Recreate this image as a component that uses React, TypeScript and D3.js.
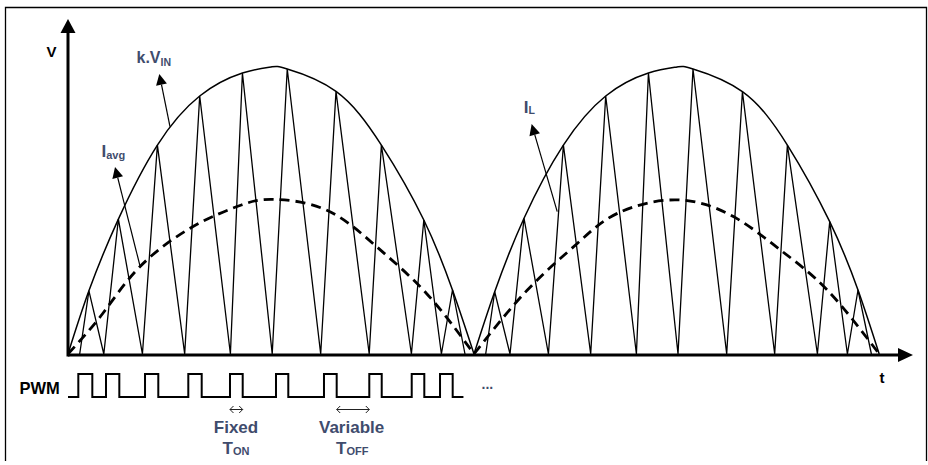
import React from 'react';
import * as d3 from 'd3';

const W = 928;
const H = 465;

// time axis in ms (one rectified half-cycle = 10 ms), values normalised to k.VIN peak
const envelopeT1 = [0, 0.515, 1.241, 2.202, 3.244, 4.296, 5.0, 5.4, 6.601, 7.719, 8.764, 9.47, 10];
const envelopeV1 = [0, 0.22, 0.47, 0.728, 0.899, 0.979, 1.0, 0.993, 0.915, 0.728, 0.467, 0.223, 0];
const envelopeT2 = [10, 10.51, 11.232, 12.202, 13.244, 14.296, 15.0, 15.394, 16.611, 17.719, 18.761, 19.458, 19.98];
const envelopeV2 = [0, 0.217, 0.473, 0.728, 0.899, 0.979, 1.0, 0.993, 0.914, 0.728, 0.461, 0.223, 0];

// inductor current IL: valleys (zero) and peaks (on envelope)
const valleyT1 = [0.288, 0.882, 1.833, 2.874, 4.0, 5.03, 6.224, 7.419, 8.458, 9.197, 9.778];
const peakT1 = [0.515, 1.241, 2.202, 3.244, 4.296, 5.4, 6.601, 7.719, 8.764, 9.47];
const peakV1 = [0.22, 0.47, 0.728, 0.899, 0.979, 0.993, 0.915, 0.728, 0.467, 0.223];
const valleyT2 = [10.288, 10.887, 11.833, 12.874, 14.0, 15.025, 16.224, 17.406, 18.458, 19.197, 19.788];
const peakT2 = [10.51, 11.232, 12.202, 13.244, 14.296, 15.394, 16.611, 17.719, 18.761, 19.458];
const peakV2 = [0.217, 0.473, 0.728, 0.899, 0.979, 0.993, 0.914, 0.728, 0.461, 0.223];

// average current (dashed)
const avgT1 = [0, 0.86, 1.77, 3.08, 4.27, 5.05, 6.36, 7.6, 8.83, 10];
const avgV1 = [0, 0.142, 0.304, 0.444, 0.519, 0.539, 0.502, 0.374, 0.211, 0];
const avgT2 = [10, 11.315, 12.55, 13.53, 15.0, 16.4, 17.55, 18.7, 19.98];
const avgV2 = [0, 0.223, 0.386, 0.49, 0.537, 0.478, 0.362, 0.223, 0];

// PWM gate signal
const pwmStart = 0;
const pwmEnd = 9.74;
const pwmRise = [0.254, 0.936, 1.897, 2.963, 3.99, 5.123, 6.305, 7.421, 8.466, 9.163];
const pwmFall = [0.599, 1.264, 2.224, 3.293, 4.303, 5.426, 6.618, 7.727, 8.776, 9.475];

// annotation arrows [tailT, tailV, tipT, tipV]
const arrowKVin = [2.512, 0.792, 2.249, 0.976];
const arrowIavg = [1.773, 0.307, 1.158, 0.652];
const arrowIL = [12.05, 0.496, 11.42, 0.801];

const NAVY = '#3f4c6d';
const FONT = 'Liberation Sans, Arial, Helvetica, sans-serif';

const x = d3.scaleLinear().domain([0, 20]).range([68, 880]);
const y = d3.scaleLinear().domain([0, 1]).range([354, 67]);
const yp = d3.scaleLinear().domain([0, 1]).range([397, 374]);

const zip = (t: number[], v: number[]) => t.map((tt, i) => [tt, v[i]] as [number, number]);

const smooth = d3
  .line<[number, number]>()
  .x((d) => x(d[0]))
  .y((d) => y(d[1]))
  .curve(d3.curveNatural);

const straight = d3
  .line<[number, number]>()
  .x((d) => x(d[0]))
  .y((d) => y(d[1]));

const pwmLine = d3
  .line<[number, number]>()
  .x((d) => x(d[0]))
  .y((d) => yp(d[1]));

function sawPoints(valleys: number[], peaks: number[], pv: number[]) {
  const pts: [number, number][] = [];
  valleys.forEach((vt, i) => {
    pts.push([vt, 0]);
    if (i < peaks.length) pts.push([peaks[i], pv[i]]);
  });
  return pts;
}

function pwmPoints() {
  const pts: [number, number][] = [[pwmStart, 0]];
  pwmRise.forEach((r, i) => {
    pts.push([r, 0], [r, 1], [pwmFall[i], 1], [pwmFall[i], 0]);
  });
  pts.push([pwmEnd, 0]);
  return pts;
}

function FilledArrow({ a }: { a: number[] }) {
  const x1 = x(a[0]), y1 = y(a[1]), x2 = x(a[2]), y2 = y(a[3]);
  const dx = x2 - x1, dy = y2 - y1;
  const len = Math.hypot(dx, dy);
  const ux = dx / len, uy = dy / len;
  const hl = 11, hw = 5.5;
  const bx = x2 - ux * hl, by = y2 - uy * hl;
  const pts = [
    [x2, y2],
    [bx - uy * hw, by + ux * hw],
    [bx + uy * hw, by - ux * hw],
  ];
  return (
    <g>
      <line x1={x1} y1={y1} x2={bx} y2={by} stroke="#000" strokeWidth={1.2} />
      <polygon points={pts.map((p) => p.join(',')).join(' ')} fill="#000" />
    </g>
  );
}

function DoubleArrow({ x1, x2, yy }: { x1: number; x2: number; yy: number }) {
  const h = 3.5;
  return (
    <g fill="none" stroke="#222" strokeWidth={1}>
      <line x1={x1} y1={yy} x2={x2} y2={yy} />
      <polyline points={`${x1 + h},${yy - h} ${x1},${yy} ${x1 + h},${yy + h}`} />
      <polyline points={`${x2 - h},${yy - h} ${x2},${yy} ${x2 - h},${yy + h}`} />
    </g>
  );
}

export default function App() {
  const y0 = y(0) + 1;
  const xAxisEnd = 913;
  const yAxisTop = 19;
  return (
    <svg
      width={W}
      height={H}
      viewBox={`0 0 ${W} ${H}`}
      style={{ position: 'absolute', left: 0, top: 0, display: 'block', background: '#fff' }}
    >
      {/* frame */}
      <path d={`M5.5,461 V7.5 H926.5 V461`} fill="none" stroke="#000" strokeWidth={1.3} />

      {/* envelope k.VIN */}
      <path d={smooth(zip(envelopeT1, envelopeV1)) || ''} fill="none" stroke="#000" strokeWidth={1.5} />
      <path d={smooth(zip(envelopeT2, envelopeV2)) || ''} fill="none" stroke="#000" strokeWidth={1.5} />

      {/* IL sawtooth */}
      <path d={straight(sawPoints(valleyT1, peakT1, peakV1)) || ''} fill="none" stroke="#000" strokeWidth={1.3} strokeLinejoin="miter" />
      <path d={straight(sawPoints(valleyT2, peakT2, peakV2)) || ''} fill="none" stroke="#000" strokeWidth={1.3} strokeLinejoin="miter" />

      {/* average current */}
      <path d={smooth(zip(avgT1, avgV1)) || ''} fill="none" stroke="#000" strokeWidth={2.8} strokeDasharray="10,6" />
      <path d={smooth(zip(avgT2, avgV2)) || ''} fill="none" stroke="#000" strokeWidth={2.8} strokeDasharray="10,6" />

      {/* axes */}
      <line x1={x(0)} y1={y0} x2={xAxisEnd - 14} y2={y0} stroke="#000" strokeWidth={3} />
      <polygon points={`${xAxisEnd},${y0} ${xAxisEnd - 15},${y0 - 7} ${xAxisEnd - 15},${y0 + 7}`} fill="#000" />
      <line x1={x(0)} y1={y0 + 1.5} x2={x(0)} y2={yAxisTop + 13} stroke="#000" strokeWidth={3} />
      <polygon points={`${x(0)},${yAxisTop} ${x(0) - 7.5},${yAxisTop + 14} ${x(0) + 7.5},${yAxisTop + 14}`} fill="#000" />

      {/* PWM */}
      <path d={pwmLine(pwmPoints()) || ''} fill="none" stroke="#000" strokeWidth={2} strokeLinejoin="miter" />

      {/* annotation arrows */}
      <FilledArrow a={arrowKVin} />
      <FilledArrow a={arrowIavg} />
      <FilledArrow a={arrowIL} />

      <DoubleArrow x1={x(pwmRise[4])} x2={x(pwmFall[4])} yy={409.5} />
      <DoubleArrow x1={x(pwmFall[6])} x2={x(pwmRise[7])} yy={409.5} />

      {/* labels */}
      <g fontFamily={FONT} fontWeight="bold">
        <text x={46.5} y={57} fontSize={15} fill="#000">V</text>
        <text x={879.5} y={383} fontSize={15} fill="#000">t</text>
        <text x={19.5} y={394} fontSize={16.5} fill="#000">PWM</text>

        <text x={136.5} y={63.3} fontSize={16} fill={NAVY}>
          k.V<tspan fontSize={10.5} dy={2.3}>IN</tspan>
        </text>
        <text x={101.5} y={156.7} fontSize={17} fill={NAVY}>
          I<tspan fontSize={11} dy={2.3}>avg</tspan>
        </text>
        <text x={523.8} y={112.7} fontSize={17} fill={NAVY}>
          I<tspan fontSize={10.5} dy={1.5}>L</tspan>
        </text>

        <text x={481.5} y={388.5} fontSize={14} fill={NAVY}>...</text>

        <text x={236} y={432.7} fontSize={17} fill={NAVY} textAnchor="middle">Fixed</text>
        <text x={351.6} y={432.7} fontSize={17} fill={NAVY} textAnchor="middle">Variable</text>
        <text x={222.6} y={454.3} fontSize={17} fill={NAVY}>
          T<tspan fontSize={11} dy={0.5}>ON</tspan>
        </text>
        <text x={336} y={454.3} fontSize={17} fill={NAVY}>
          T<tspan fontSize={11} dy={0.5}>OFF</tspan>
        </text>
      </g>
    </svg>
  );
}
